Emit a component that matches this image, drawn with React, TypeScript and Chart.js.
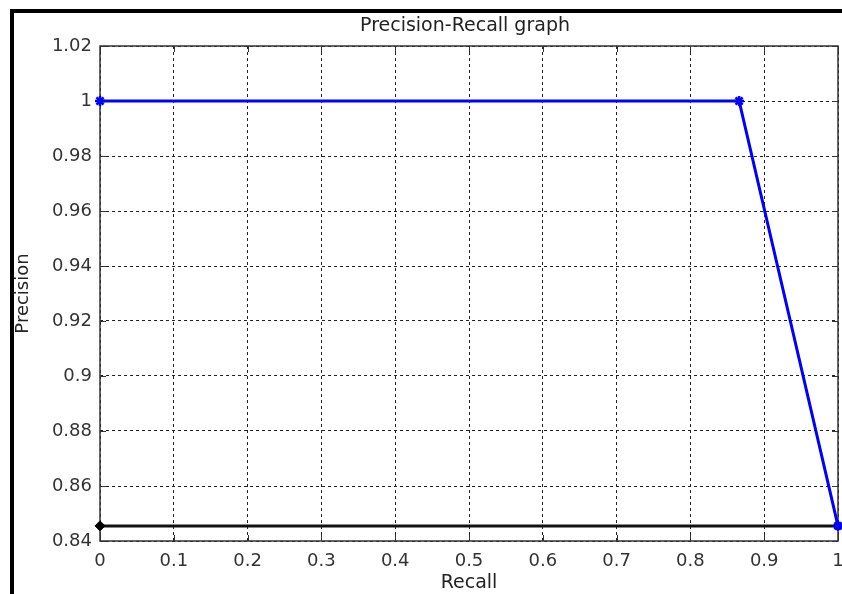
import React, { useEffect, useRef } from "react";
import { Chart, registerables } from "chart.js";

Chart.register(...registerables);

const recall = [0, 0.866, 1];
const precision = [1, 1, 0.8455];
const baselineRecall = [0, 1];
const baselinePrecision = [0.8455, 0.8455];

const xTicks = [0, 0.1, 0.2, 0.3, 0.4, 0.5, 0.6, 0.7, 0.8, 0.9, 1];
const xTickLabels = ["0", "0.1", "0.2", "0.3", "0.4", "0.5", "0.6", "0.7", "0.8", "0.9", "1"];
const yTicks = [0.84, 0.86, 0.88, 0.9, 0.92, 0.94, 0.96, 0.98, 1, 1.02];
const yTickLabels = ["0.84", "0.86", "0.88", "0.9", "0.92", "0.94", "0.96", "0.98", "1", "1.02"];

const titleText = "Precision-Recall graph";
const xTitle = "Recall";
const yTitle = "Precision";

const FONT = "'DejaVu Sans', sans-serif";

const framePlugin = {
  id: "matlabFrame",
  beforeDraw(chart: any) {
    const { ctx, width, height } = chart;
    ctx.save();
    ctx.fillStyle = "#ffffff";
    ctx.fillRect(0, 0, width, height);
    ctx.restore();
  },
  beforeDatasetsDraw(chart: any) {
    const { ctx, chartArea } = chart;
    const { left, right, top, bottom } = chartArea;
    const xs = chart.scales.x;
    const ys = chart.scales.y;
    ctx.save();
    ctx.strokeStyle = "#333";
    ctx.lineWidth = 1.5;
    ctx.setLineDash([]);
    ctx.strokeRect(left, top, right - left, bottom - top);
    const tl = 6;
    ctx.lineWidth = 1;
    ctx.beginPath();
    xTicks.forEach((v) => {
      const px = Math.round(xs.getPixelForValue(v)) + 0.5;
      ctx.moveTo(px, bottom);
      ctx.lineTo(px, bottom - tl);
      ctx.moveTo(px, top);
      ctx.lineTo(px, top + tl);
    });
    yTicks.forEach((v) => {
      const py = Math.round(ys.getPixelForValue(v)) + 0.5;
      ctx.moveTo(left, py);
      ctx.lineTo(left + tl, py);
      ctx.moveTo(right, py);
      ctx.lineTo(right - tl, py);
    });
    ctx.stroke();
    ctx.restore();
  },
  afterDraw(chart: any) {
    const { ctx, width, height } = chart;
    ctx.save();
    ctx.fillStyle = "#000";
    ctx.fillRect(10, 9, width - 10, 4);
    ctx.fillRect(10, 9, 4, height - 9);
    ctx.fillStyle = "#222";
    ctx.font = `19px ${FONT}`;
    ctx.textAlign = "center";
    ctx.textBaseline = "middle";
    ctx.fillText(titleText, 465, 26);
    ctx.restore();
  },
};

export default function App() {
  const ref = useRef<HTMLCanvasElement | null>(null);

  useEffect(() => {
    if (!ref.current) return;
    const chart = new Chart(ref.current, {
      type: "line",
      data: {
        datasets: [
          {
            label: "PR",
            data: recall.map((r, i) => ({ x: r, y: precision[i] })),
            borderColor: "#0000ff",
            backgroundColor: "#0000ff",
            borderWidth: 3,
            pointStyle: "star",
            pointRadius: 5,
            pointBorderWidth: 2.5,
            pointBorderColor: "#0000ff",
            tension: 0,
            clip: false,
            order: 0,
          } as any,
          {
            label: "baseline",
            data: baselineRecall.map((r, i) => ({ x: r, y: baselinePrecision[i] })),
            borderColor: "#111",
            backgroundColor: "#000",
            borderWidth: 3,
            pointStyle: "rectRot",
            pointRadius: 5,
            pointBorderWidth: 1,
            pointBorderColor: "#000",
            tension: 0,
            clip: false,
            order: 1,
          } as any,
        ],
      },
      options: {
        animation: false,
        responsive: false,
        maintainAspectRatio: false,
        layout: { autoPadding: false, padding: { top: 46, right: 4, left: 0, bottom: 0 } },
        plugins: {
          legend: { display: false },
          tooltip: { enabled: false },
          title: { display: false },
        },
        scales: {
          x: {
            type: "linear",
            min: 0,
            max: 1,
            afterBuildTicks: (s: any) => {
              s.ticks = xTicks.map((v) => ({ value: v }));
            },
            afterFit: (s: any) => {
              s.height = 53;
              s.paddingLeft = 0;
              s.paddingRight = 0;
            },
            ticks: {
              autoSkip: false,
              maxRotation: 0,
              minRotation: 0,
              padding: 10,
              color: "#333",
              font: { family: FONT, size: 18 },
              callback: (v: any) => {
                const i = xTicks.findIndex((t) => Math.abs(t - Number(v)) < 1e-9);
                return i >= 0 ? xTickLabels[i] : "";
              },
            },
            grid: { color: "#222", lineWidth: 1, drawTicks: false },
            border: { display: false, dash: [3, 3] },
            title: {
              display: true,
              text: xTitle,
              color: "#222",
              font: { family: FONT, size: 19 },
              padding: { top: 0, bottom: 0 },
            },
          },
          y: {
            type: "linear",
            min: 0.84,
            max: 1.02,
            afterBuildTicks: (s: any) => {
              s.ticks = yTicks.map((v) => ({ value: v }));
            },
            afterFit: (s: any) => {
              s.width = 100;
              s.paddingTop = 0;
              s.paddingBottom = 0;
              s.paddingLeft = 0;
              s.paddingRight = 0;
            },
            ticks: {
              autoSkip: false,
              padding: 8,
              color: "#333",
              font: { family: FONT, size: 18 },
              callback: (v: any) => {
                const i = yTicks.findIndex((t) => Math.abs(t - Number(v)) < 1e-9);
                return i >= 0 ? yTickLabels[i] : "";
              },
            },
            grid: { color: "#222", lineWidth: 1, drawTicks: false },
            border: { display: false, dash: [3, 3] },
            title: {
              display: true,
              text: yTitle,
              color: "#222",
              font: { family: FONT, size: 18 },
              padding: { top: 13, bottom: 0 },
            },
          },
        },
      },
      plugins: [framePlugin],
    });
    return () => chart.destroy();
  }, []);

  return (
    <div style={{ position: "fixed", left: 0, top: 0, width: 842, height: 594, background: "#fff" }}>
      <canvas ref={ref} width={842} height={594} style={{ display: "block" }} />
    </div>
  );
}
